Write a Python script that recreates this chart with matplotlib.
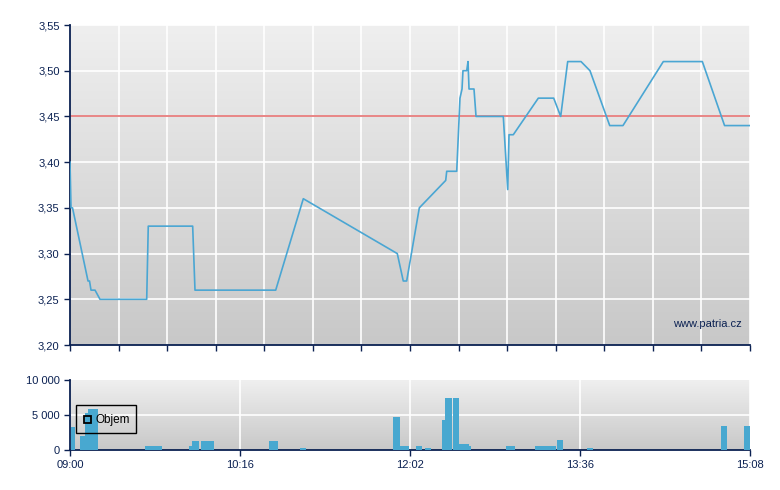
import matplotlib
matplotlib.use("Agg")
import matplotlib.pyplot as plt
import numpy as np
from matplotlib.patches import Rectangle
from matplotlib.colors import LinearSegmentedColormap

plt.rcParams['font.family'] = ['Liberation Sans', 'DejaVu Sans']

# ---- data (x = position within session, 0..100) ----
price_x = [0, 0.15, 0.37, 2.65, 2.87, 3.09, 3.68, 4.41, 11.28, 11.51, 18.04, 18.38,
           30.25, 34.31, 48.13, 49.01, 49.51, 51.37, 55.25, 55.40, 56.87, 57.35,
           57.65, 57.79, 58.34, 58.53, 58.68, 59.41, 59.71, 63.72, 64.37, 64.56,
           65.19, 68.87, 71.13, 72.16, 73.19, 75.15, 76.47, 79.37, 81.32, 87.25,
           92.99, 96.26, 100]
price_y = [3.40, 3.35, 3.35, 3.27, 3.27, 3.26, 3.26, 3.25, 3.25, 3.33, 3.33, 3.26,
           3.26, 3.36, 3.30, 3.27, 3.27, 3.35, 3.38, 3.39, 3.39, 3.47,
           3.48, 3.50, 3.50, 3.51, 3.48, 3.48, 3.45, 3.45, 3.37, 3.43,
           3.43, 3.47, 3.47, 3.45, 3.51, 3.51, 3.50, 3.44, 3.44, 3.51,
           3.51, 3.44, 3.44]
reference_price = 3.45

vol_start = [0.1, 1.47, 2.21, 2.69, 11.03, 17.5, 17.99, 19.26, 29.26, 33.82,
             47.46, 48.53, 50.84, 52.21, 54.71, 55.15, 56.32, 57.25, 58.68,
             64.12, 68.38, 71.62, 76.03, 95.74, 99.12]
vol_end = [0.78, 2.21, 2.69, 4.07, 13.49, 17.99, 18.97, 21.13, 30.59, 34.71,
           48.53, 49.85, 51.76, 53.09, 55.15, 56.18, 57.21, 58.68, 58.97,
           65.44, 71.47, 72.5, 76.91, 96.62, 100]
vol_value = [3300, 2000, 5300, 5900, 600, 600, 1300, 1300, 1300, 300,
             4700, 600, 600, 300, 4300, 7400, 7400, 900, 600,
             600, 600, 1400, 300, 3400, 3400]

price_ticks = [3.20, 3.25, 3.30, 3.35, 3.40, 3.45, 3.50, 3.55]
vol_ticks = [0, 5000, 10000]
vol_tick_labels = ["0", "5 000", "10 000"]
time_tick_pos = [0, 25, 50, 75, 100]
time_tick_labels = ["09:00", "10:16", "12:02", "13:36", "15:08"]

NAVY = "#0b2152"
LINE = "#4aa6d3"
BAR = "#48a8d0"
RED = "#e88585"

W, H = 780, 490
fig = plt.figure(figsize=(W / 100, H / 100), dpi=100)

def ax_rect(l, t, r, b):
    return [l / W, 1 - b / H, (r - l) / W, (b - t) / H]

ax = fig.add_axes(ax_rect(70, 25, 750, 345))
axv = fig.add_axes(ax_rect(70, 380, 750, 450))

grad_cmap = LinearSegmentedColormap.from_list("g", ["#c8c8c8", "#efefef"])
grad = np.linspace(0, 1, 256).reshape(-1, 1)

for a, (y0, y1) in [(ax, (3.20, 3.55)), (axv, (0, 10000))]:
    a.imshow(grad, extent=[0, 100, y0, y1], aspect='auto', cmap=grad_cmap,
             origin='lower', zorder=0)
    a.set_xlim(0, 100)
    a.set_ylim(y0, y1)
    for s in ['top', 'right']:
        a.spines[s].set_visible(False)
    for s in ['left', 'bottom']:
        a.spines[s].set_color(NAVY)
        a.spines[s].set_linewidth(1.3)
    a.tick_params(colors=NAVY, labelcolor=NAVY, labelsize=8, length=4, width=1, direction='out')

# main price chart
ax.set_yticks(price_ticks)
ax.set_yticklabels([f"{v:.2f}".replace('.', ',') for v in price_ticks])
grid_x = np.linspace(0, 100, 15)
ax.set_xticks(grid_x)
ax.set_xticklabels([])
for gx in grid_x[1:-1]:
    ax.axvline(gx, color='white', lw=1.2, zorder=1)
ax.axvline(100, color='white', lw=1.2, zorder=1)
for gy in price_ticks[1:]:
    ax.axhline(gy, color='white', lw=1.2, zorder=1)
ax.axhline(reference_price, color=RED, lw=1.4, zorder=2)
ax.plot(price_x, price_y, color=LINE, lw=1.2, zorder=3)
ax.text(98.8, 3.223, "www.patria.cz", color=NAVY, fontsize=8, ha='right', va='center', zorder=4)

# volume chart
axv.set_yticks(vol_ticks)
axv.set_yticklabels(vol_tick_labels)
axv.set_xticks(time_tick_pos)
axv.set_xticklabels(time_tick_labels)
for gx in time_tick_pos[1:-1]:
    axv.axvline(gx, color='white', lw=1.2, zorder=1)
axv.axvline(100, color='white', lw=1.2, zorder=1)
axv.axhline(5000, color='white', lw=1.2, zorder=1)
widths = [e - s for s, e in zip(vol_start, vol_end)]
axv.bar(vol_start, vol_value, width=widths, align='edge', color=BAR, zorder=3, linewidth=0)

# legend box
fig.patches.append(Rectangle((75.5 / W, 1 - 433 / H), 60 / W, 28 / H,
                             transform=fig.transFigure, facecolor='none',
                             edgecolor='black', lw=1, zorder=10))
fig.patches.append(Rectangle((83.5 / W, 1 - 422.5 / H), 7 / W, 7 / H,
                             transform=fig.transFigure, facecolor='none',
                             edgecolor='black', lw=1.3, zorder=10))
fig.text(95 / W, 1 - 420.5 / H, "Objem", fontsize=8.5, color='black', va='center', ha='left')

fig.savefig("out.png", dpi=100)
